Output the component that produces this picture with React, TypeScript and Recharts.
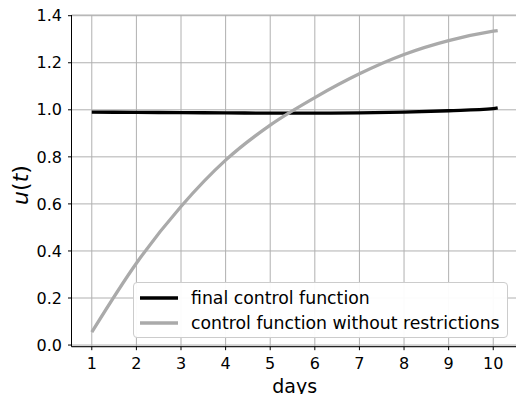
import React from 'react';
import { LineChart, Line, XAxis, YAxis, CartesianGrid, Legend } from 'recharts';

const days = [1, 2, 3, 4, 5, 6, 7, 8, 9, 10, 10.1];
const finalControl = [0.99, 0.989, 0.988, 0.987, 0.986, 0.986, 0.987, 0.99, 0.996, 1.005, 1.008];
const withoutRestrictions = [0.055, 0.348, 0.589, 0.786, 0.935, 1.052, 1.153, 1.235, 1.294, 1.334, 1.337];

const xTicks = [1, 2, 3, 4, 5, 6, 7, 8, 9, 10];
const yTicks = [0, 0.2, 0.4, 0.6, 0.8, 1.0, 1.2, 1.4];

const seriesNames = ['final control function', 'control function without restrictions'];
const seriesColors = ['#000000', '#aaaaaa'];

const data = days.map((d, i) => ({
  day: d,
  final: finalControl[i],
  free: withoutRestrictions[i],
}));

const FONT = '"DejaVu Sans", sans-serif';

const renderLegend = () => (
  <div
    style={{
      width: 375,
      height: 56,
      boxSizing: 'border-box',
      background: 'rgba(255,255,255,0.95)',
      border: '1px solid #cccccc',
      borderRadius: 4,
      fontFamily: FONT,
      fontSize: 17.3,
      color: '#000',
      padding: '2px 0 0 5px',
    }}
  >
    {seriesNames.map((name, i) => (
      <div key={name} style={{ display: 'flex', alignItems: 'center', height: 25 }}>
        <svg width={40} height={6} style={{ marginRight: 12 }}>
          <line x1={1} y1={3} x2={39} y2={3} stroke={seriesColors[i]} strokeWidth={3.3} />
        </svg>
        <span>{name}</span>
      </div>
    ))}
  </div>
);

const YLabel = () => (
  <text
    x={0}
    y={0}
    transform="translate(28, 185) rotate(-90)"
    textAnchor="middle"
    fontFamily={FONT}
    fontSize={22}
    fill="#000"
  >
    <tspan fontStyle="italic">u</tspan>
    <tspan>(</tspan>
    <tspan fontStyle="italic">t</tspan>
    <tspan>)</tspan>
  </text>
);

const App: React.FC = () => (
  <div style={{ width: 516, height: 394, overflow: 'hidden', position: 'relative' }}>
    <style>{'body{margin:0}'}</style>
    <LineChart
      width={518}
      height={394}
      data={data}
      margin={{ top: 15, right: 0, bottom: 0, left: 0 }}
    >
      <CartesianGrid stroke="#b0b0b0" strokeWidth={1} />
      <XAxis
        dataKey="day"
        type="number"
        domain={[0.545, 10.555]}
        ticks={xTicks}
        allowDataOverflow
        height={47.3}
        stroke="#000"
        tickSize={3.5}
        tickMargin={7}
        tick={{ fill: '#000', fontSize: 16, fontFamily: FONT }}
        label={{
          value: 'days',
          position: 'insideBottom',
          offset: 1,
          fill: '#000',
          fontSize: 19,
          fontFamily: FONT,
        }}
      />
      <XAxis
        xAxisId="top"
        orientation="top"
        dataKey="day"
        type="number"
        domain={[0.545, 10.555]}
        height={0}
        tick={false}
        tickLine={false}
        stroke="#000"
      />
      <YAxis
        type="number"
        domain={[-0.007, 1.403]}
        ticks={yTicks}
        allowDataOverflow
        width={71.5}
        stroke="#000"
        tickSize={3.5}
        tickMargin={6}
        tickFormatter={(v: number) => v.toFixed(1)}
        tick={{ fill: '#000', fontSize: 16, fontFamily: FONT }}
        label={<YLabel />}
      />
      <Legend
        layout="vertical"
        align="center"
        verticalAlign="middle"
        content={renderLegend}
        wrapperStyle={{ position: 'absolute', left: 133, top: 282, width: 375 }}
      />
      <Line
        type="monotone"
        dataKey="final"
        stroke={seriesColors[0]}
        strokeWidth={3.3}
        dot={false}
        isAnimationActive={false}
      />
      <Line
        type="monotone"
        dataKey="free"
        stroke={seriesColors[1]}
        strokeWidth={3.3}
        dot={false}
        isAnimationActive={false}
      />
    </LineChart>
  </div>
);

export default App;
